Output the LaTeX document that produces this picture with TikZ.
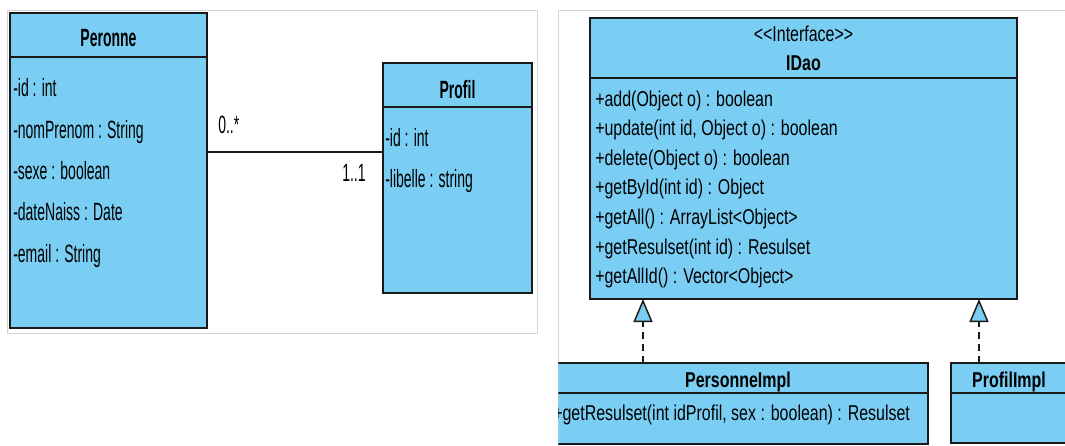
\documentclass[tikz,border=0pt]{standalone}
\usepackage{fontspec}
\usetikzlibrary{arrows.meta}
\newfontfamily\lfont[FakeStretch=0.56]{Liberation Sans}
\newfontfamily\rfont[FakeStretch=0.744]{Liberation Sans}
\definecolor{boxfill}{RGB}{122,206,243}
\definecolor{boxline}{RGB}{25,25,25}
\definecolor{panelgray}{RGB}{212,212,212}
\newcommand\pxu{0.75pt}
\begin{document}
\begin{tikzpicture}[x=0.75pt,y=-0.75pt,
  cls/.style={draw=boxline, fill=boxfill, line width=1.5pt, anchor=north west, inner sep=0pt, outer sep=0pt},
  ltxt/.style={font=\lfont\fontsize{18.75pt}{20pt}\selectfont, anchor=base west, inner sep=0pt},
  ltitle/.style={font=\lfont\bfseries\fontsize{18.75pt}{20pt}\selectfont, anchor=base, inner sep=0pt},
  rtxt/.style={font=\rfont\fontsize{16.1pt}{18pt}\selectfont, anchor=base west, inner sep=0pt},
  rtitle/.style={font=\rfont\bfseries\fontsize{16.1pt}{18pt}\selectfont, anchor=base, inner sep=0pt},
  divider/.style={draw=boxline, line width=1.5pt},
  assoc/.style={draw=boxline, line width=1.8pt},
  real/.style={draw=boxline, line width=1.3pt, dash pattern=on 5.25pt off 3.75pt,
    -{Triangle[open, fill=boxfill, width=14.25pt, length=17.25pt, line width=1.1pt]}},
  panelbox/.style={draw=panelgray, line width=0.75pt}]
\useasboundingbox (0,0) rectangle (1065,446);
\clip (0,0) rectangle (1065,446);

% panels
\draw[panelbox] (7,10) rectangle (537,333);
\draw[panelbox] (558,446) -- (558,10.5) -- (1066,10.5);

% ---------- left panel ----------
\node[cls, minimum width=197*\pxu, minimum height=315*\pxu] (peronne) at (10,13) {};
\draw[divider] (peronne.west |- 0,57) -- (peronne.east |- 0,57);
\node[ltitle] (peronneT) at (108.5,46.7) {Peronne};
\node[ltxt] (pa1) at (13,96.7) {-id : int};
\node[ltxt] (pa2) at (13,138) {-nomPrenom : String};
\node[ltxt] (pa3) at (13,179.3) {-sexe : boolean};
\node[ltxt] (pa4) at (13,220.6) {-dateNaiss : Date};
\node[ltxt] (pa5) at (13,262) {-email : String};

\node[cls, minimum width=149*\pxu, minimum height=230*\pxu] (profil) at (383,63) {};
\draw[divider] (profil.west |- 0,107) -- (profil.east |- 0,107);
\node[ltitle] (profilT) at (457.5,98.3) {Profil};
\node[ltxt] (pf1) at (385,146.7) {-id : int};
\node[ltxt] (pf2) at (385,187.6) {-libelle : string};

\draw[assoc] (peronne.east |- 0,152) -- (profil.west |- 0,152);
\node[ltxt] (m1) at (218,133.3) {0..*};
\node[ltxt] (m2) at (342,181.7) {1..1};

% ---------- right panel ----------
\node[cls, minimum width=427*\pxu, minimum height=281*\pxu] (idao) at (590,18) {};
\draw[divider] (idao.west |- 0,78) -- (idao.east |- 0,78);
\node[rtxt, anchor=base] (idaoS) at (803.5,41.7) {{<}{<}Interface{>}{>}};
\node[rtitle] (idaoT) at (803.5,70.7) {IDao};
\node[rtxt] (i1) at (595,106) {+add(Object o) : boolean};
\node[rtxt] (i2) at (595,135.6) {+update(int id, Object o) : boolean};
\node[rtxt] (i3) at (595,165.2) {+delete(Object o) : boolean};
\node[rtxt] (i4) at (595,194.8) {+getById(int id) : Object};
\node[rtxt] (i5) at (595,224.4) {+getAll() : ArrayList{<}Object{>}};
\node[rtxt] (i6) at (595,254) {+getResulset(int id) : Resulset};
\node[rtxt] (i7) at (595,283.6) {+getAllId() : Vector{<}Object{>}};

\begin{scope}
\clip (558.4,0) rectangle (1066,446);
\node[cls, minimum width=380*\pxu, minimum height=81*\pxu] (pimpl) at (548,363) {};
\draw[divider] (pimpl.west |- 0,393) -- (pimpl.east |- 0,393);
\node[rtitle] (pimplT) at (738,387) {PersonneImpl};
\node[rtxt] (pm1) at (553,420) {+getResulset(int idProfil, sex : boolean) : Resulset};
\end{scope}

\node[cls, minimum width=116*\pxu, minimum height=80*\pxu] (fimpl) at (951,363) {};
\draw[divider] (fimpl.west |- 0,393) -- (fimpl.east |- 0,393);
\node[rtitle] (fimplT) at (1009,387) {ProfilImpl};

\draw[real] (pimpl.north -| 643,0) -- (idao.south -| 643,0);
\draw[real] (fimpl.north -| 979,0) -- (idao.south -| 979,0);
\end{tikzpicture}
\end{document}
